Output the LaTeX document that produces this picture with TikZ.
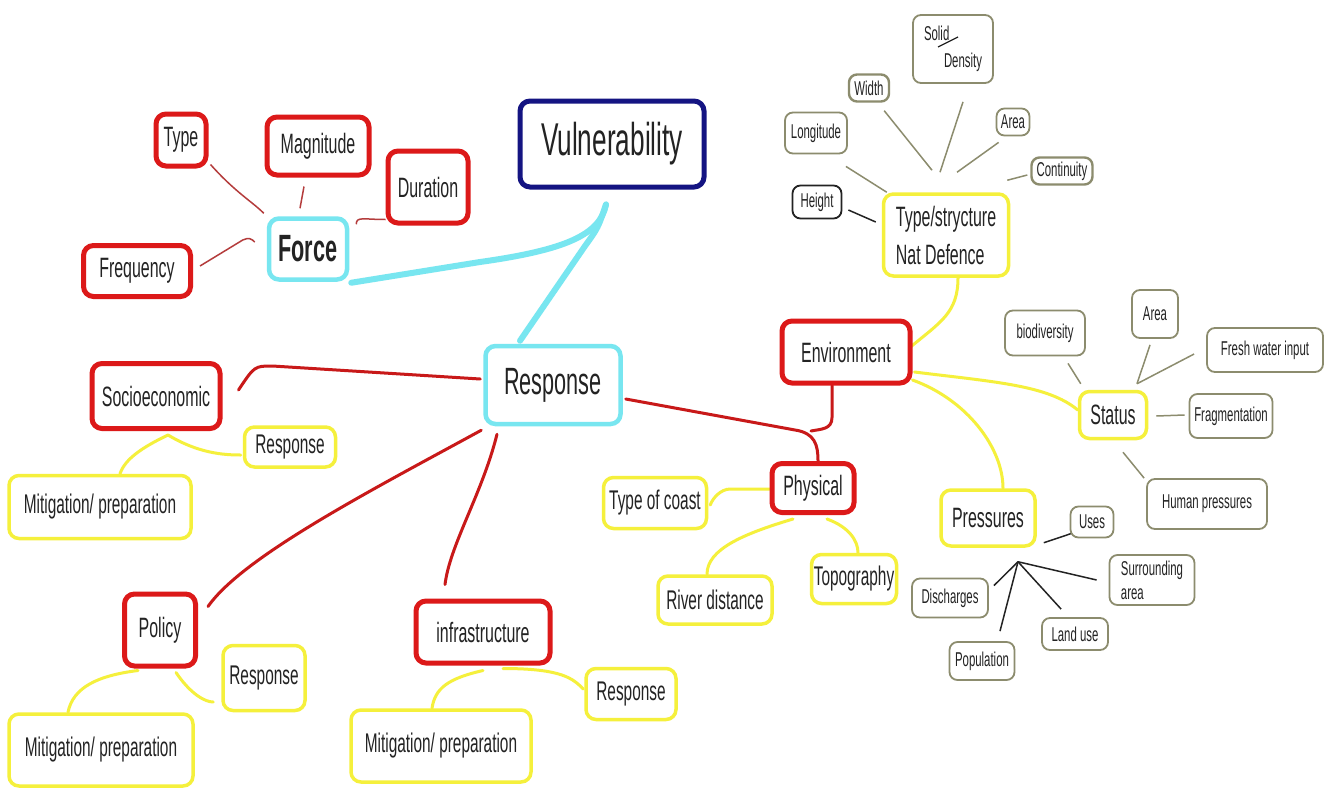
\documentclass[tikz,border=0pt]{standalone}
\usepackage{fontspec}
\setmainfont[FakeStretch=0.57]{Liberation Sans}
\usetikzlibrary{calc}
\pgfdeclarelayer{bg}\pgfsetlayers{bg,main}
\definecolor{cred}{RGB}{220,25,25}
\definecolor{lred}{RGB}{200,25,25}
\definecolor{fred}{RGB}{180,60,60}
\definecolor{ccyan}{RGB}{120,230,240}
\definecolor{cnavy}{RGB}{20,20,130}
\definecolor{cyel}{RGB}{245,240,60}
\definecolor{coli}{RGB}{140,140,110}
\definecolor{ctxt}{RGB}{35,35,35}
\newcommand{\mysz}[1]{\fontsize{#1}{#1}\selectfont}
\tikzset{
  box/.style={rounded corners=10pt, fill=white, align=center, inner sep=2pt, text=ctxt},
  redbox/.style={box, draw=cred, line width=5pt, font={\mysz{28}}},
  cyanbox/.style={box, draw=ccyan, line width=4.5pt},
  navbox/.style={box, draw=cnavy, line width=5pt, font={\mysz{46}}},
  yelbox/.style={box, draw=cyel, line width=3.5pt, font={\mysz{27}}},
  olbox/.style={box, rounded corners=8pt, draw=coli, line width=1.8pt, font={\mysz{20}}},
  fline/.style={draw=fred, line width=1.5pt},
  rline/.style={draw=lred, line width=3pt, line cap=round},
  cline/.style={draw=ccyan, line width=6pt, line cap=round},
  yline/.style={draw=cyel, line width=3pt, line cap=round},
  oline/.style={draw=coli, line width=1.5pt},
  kline/.style={draw=ctxt, line width=1.5pt},
}
\begin{document}
\begin{tikzpicture}[x=1pt,y=-1pt]
\useasboundingbox (0,0) rectangle (1329,787);
% --- main nodes
\node[navbox, minimum width=184pt, minimum height=86pt] (vul) at (612,144) {Vulnerability};
\node[cyanbox, minimum width=78pt, minimum height=61pt, font={\mysz{38}\bfseries}] (force) at (308,249) {Force};
\node[cyanbox, minimum width=135pt, minimum height=78pt, font={\mysz{38}}] (resp) at (553,385) {Response};
% --- red nodes
\node[redbox, minimum width=50pt, minimum height=52pt] (type) at (181,140) {Type};
\node[redbox, minimum width=102pt, minimum height=58pt] (mag) at (318,146) {Magnitude};
\node[redbox, minimum width=80pt, minimum height=72pt] (dur) at (428,187) {Duration};
\node[redbox, minimum width=107pt, minimum height=51pt] (freq) at (137,271) {Frequency};
\node[redbox, minimum width=128pt, minimum height=65pt] (socio) at (156,396) {Socioeconomic};
\node[redbox, minimum width=71pt, minimum height=72pt] (policy) at (160,630) {Policy};
\node[redbox, minimum width=134pt, minimum height=62pt] (infra) at (483,632) {infrastructure};
\node[redbox, minimum width=128pt, minimum height=62pt] (env) at (846,352) {Environment};
\node[redbox, minimum width=82pt, minimum height=49pt] (phys) at (813,488) {Physical};
% --- yellow nodes
\node[yelbox, minimum width=91pt, minimum height=40pt] (sresp) at (290,447) {Response};
\node[yelbox, minimum width=182pt, minimum height=63pt] (smit) at (100,507) {Mitigation/ preparation};
\node[yelbox, minimum width=82pt, minimum height=65pt] (presp) at (264,678) {Response};
\node[yelbox, minimum width=184pt, minimum height=72pt] (pmit) at (101,750) {Mitigation/ preparation};
\node[yelbox, minimum width=90pt, minimum height=51pt] (iresp) at (631,694) {Response};
\node[yelbox, minimum width=180pt, minimum height=72pt] (imit) at (441,746) {Mitigation/ preparation};
\node[yelbox, minimum width=103pt, minimum height=51pt] (coast) at (655,503) {Type of coast};
\node[yelbox, minimum width=114pt, minimum height=48pt] (river) at (715,600) {River distance};
\node[yelbox, minimum width=85pt, minimum height=49pt] (topo) at (854,579) {Topography};
\node[yelbox, minimum width=125pt, minimum height=82pt, align=left, font={\fontsize{28}{38}\selectfont}] (ts) at (946,235) {Type/strycture\\Nat Defence};
\node[yelbox, minimum width=67pt, minimum height=47pt, font={\mysz{28}}] (status) at (1113,415) {Status};
\node[yelbox, minimum width=94pt, minimum height=56pt, font={\mysz{28}}] (press) at (988,518) {Pressures};
% --- olive nodes
\node[olbox, draw=ctxt, minimum width=49pt, minimum height=33pt] (height) at (817,202) {Height};
\node[olbox, minimum width=62pt, minimum height=41pt] (longi) at (816,133) {Longitude};
\node[olbox, line width=2.4pt, minimum width=40pt, minimum height=27pt] (width) at (869,88) {Width};
\node[olbox, minimum width=80pt, minimum height=68pt, align=left, font={\fontsize{20}{27}\selectfont}] (solid) at (953,49) {Solid\\\hspace*{20pt}Density};
\node[olbox, minimum width=33pt, minimum height=27pt] (area1) at (1013,122) {Area};
\node[olbox, line width=2.4pt, minimum width=61pt, minimum height=27pt] (cont) at (1062,171) {Continuity};
\node[olbox, minimum width=80pt, minimum height=45pt] (bio) at (1045,333) {biodiversity};
\node[olbox, minimum width=46pt, minimum height=48pt] (area2) at (1155,314) {Area};
\node[olbox, minimum width=116pt, minimum height=44pt] (fresh) at (1265,350) {Fresh water input};
\node[olbox, minimum width=83pt, minimum height=44pt] (frag) at (1231,416) {Fragmentation};
\node[olbox, minimum width=120pt, minimum height=50pt] (human) at (1207,504) {Human pressures};
\node[olbox, minimum width=43pt, minimum height=31pt] (uses) at (1092,522) {Uses};
\node[olbox, minimum width=85pt, minimum height=50pt, align=left, font={\fontsize{20}{24}\selectfont}] (surr) at (1152,580) {Surrounding\\area};
\node[olbox, minimum width=76pt, minimum height=39pt] (disch) at (950,598) {Discharges};
\node[olbox, minimum width=66pt, minimum height=32pt] (land) at (1075,634) {Land use};
\node[olbox, minimum width=65pt, minimum height=38pt] (pop) at (982,661) {Population};
% slash inside Solid/Density
\draw[ctxt, line width=1.3pt] ($(solid.center)+(-15,-2)$) -- ($(solid.center)+(5,-12)$);
\coordinate (vtip) at ($(vul.south)+(-6,15)$);
\coordinate (sj) at ($(status.north)+(24,-6)$);
\coordinate (pj) at ($(press.south)+(30,14)$);
\begin{pgfonlayer}{bg}
\fill[white] (0,0) rectangle (1329,787);
% force cluster
\draw[fline] ($(type.south east)+(2,-4)$) .. controls +(25,28) and +(-12,-12) .. ($(force.north west)+(-3,-3)$);
\draw[fline] ($(mag.south)+(-14,9)$) -- ($(force.north)+(-8,-8)$);
\draw[fline] ($(dur.south west)+(0,-6)$) .. controls +(-22,0) and +(0,-8) .. ($(force.north east)+(7,8)$);
\draw[fline] ($(freq.east)+(7,-5)$) -- ($(force.west)+(-24,-9)$) .. controls +(6,-3) and +(-3,-3) .. ($(force.west)+(-12,-7)$);
% cyan
\draw[cline] ($(force.south east)+(2,1)$) -- (480,262) .. controls (565,250) and (600,235) .. (vtip);
\draw[cline] ($(resp.north)+(-33,-3)$) -- (585,246) .. controls (598,228) .. (vtip);
% red main
\draw[rline] ($(resp.west)+(-3,-6)$) -- ($(socio.east)+(50,-30)$) .. controls +(-18,0) .. ($(socio.east)+(16,-6)$);
\draw[rline] ($(resp.south west)+(-2,4)$) .. controls +(-110,60) and +(35,-50) .. ($(policy.north east)+(10,15)$);
\draw[rline] ($(resp.south)+(-56,8)$) .. controls +(-15,60) and +(5,-40) .. ($(infra.north)+(-38,-14)$);
\draw[rline] ($(resp.east)+(3,14)$) -- (795,430) .. controls (815,433) and (818,445) .. ($(phys.north)+(5,0)$);
\draw[rline] ($(env.south)+(-14,0)$) -- ($(env.south)+(-14,32)$) .. controls +(0,12) and +(10,-2) .. ($(phys.north)+(-2,-30)$);
% yellow
\draw[yline] ($(socio.south)+(12,4)$) .. controls +(30,18) and +(-18,0) .. ($(sresp.west)+(-2,8)$);
\draw[yline] ($(socio.south)+(12,4)$) .. controls +(-25,12) and +(5,-15) .. ($(smit.north)+(20,0)$);
\draw[yline] ($(policy.south)+(-22,2)$) .. controls +(-40,5) and +(5,-25) .. ($(pmit.north)+(-33,0)$);
\draw[yline] ($(policy.south)+(16,4)$) .. controls +(15,22) and +(-8,0) .. ($(presp.west)+(-8,24)$);
\draw[yline] ($(infra.south)+(0,5)$) .. controls +(-35,8) and +(3,-20) .. ($(imit.north)+(-9,0)$);
\draw[yline] ($(infra.south)+(20,3)$) .. controls +(60,0) and +(-10,-10) .. ($(iresp.west)+(-1,-5)$);
\draw[yline] ($(phys.west)+(0,1)$) -- ($(coast.east)+(22,-14)$) .. controls +(-10,0) and +(2,-6) .. ($(coast.east)+(2,2)$);
\draw[yline] ($(phys.south)+(-20,4)$) .. controls +(-50,15) and +(0,-25) .. ($(river.north)+(-8,0)$);
\draw[yline] ($(phys.south)+(14,4)$) .. controls +(22,8) and +(0,-12) .. ($(topo.north)+(4,0)$);
\draw[yline] ($(ts.south)+(12,0)$) .. controls +(0,35) and +(30,-25) .. ($(env.east)+(-2,-5)$);
\draw[yline] ($(env.east)+(2,20)$) .. controls +(80,10) and +(-30,-25) .. ($(status.west)+(0,-5)$);
\draw[yline] ($(env.east)+(0,28)$) .. controls +(55,20) and +(0,-40) .. ($(press.north)+(15,0)$);
% TS cluster
\draw[kline] ($(height.east)+(6,8)$) -- ($(ts.west)+(-6,-13)$);
\draw[oline] ($(longi.south east)+(-2,12)$) -- ($(ts.north west)+(5,0)$);
\draw[oline] ($(width.south east)+(-6,8)$) -- ($(ts.north)+(-14,-22)$);
\draw[oline] ($(solid.south)+(10,18)$) -- ($(ts.north)+(-6,-20)$);
\draw[oline] ($(area1.south west)+(3,6)$) -- ($(ts.north)+(11,-20)$);
\draw[oline] ($(cont.west)+(-3,4)$) -- ($(ts.north east)+(-3,-12)$);
% status cluster
\draw[oline] ($(bio.south)+(23,7)$) -- ($(status.north west)+(3,-6)$);
\draw[oline] ($(area2.south)+(-5,6)$) -- (sj);
\draw[oline] ($(fresh.west)+(-12,4)$) -- (sj);
\draw[oline] ($(status.east)+(8,1)$) -- ($(frag.west)+(-4,-1)$);
\draw[oline] ($(status.south)+(10,12)$) -- ($(human.north west)+(-2,0)$);
% pressures cluster
\draw[kline] ($(press.south east)+(7,-5)$) -- ($(uses.south west)+(2,-5)$);
\draw[kline] (pj) -- ($(disch.north east)+(5,8)$);
\draw[kline] (pj) -- ($(pop.north)+(18,-10)$);
\draw[kline] (pj) -- ($(land.north west)+(20,-8)$);
\draw[kline] (pj) -- ($(surr.west)+(-12,0)$);
\end{pgfonlayer}
\end{tikzpicture}
\end{document}
